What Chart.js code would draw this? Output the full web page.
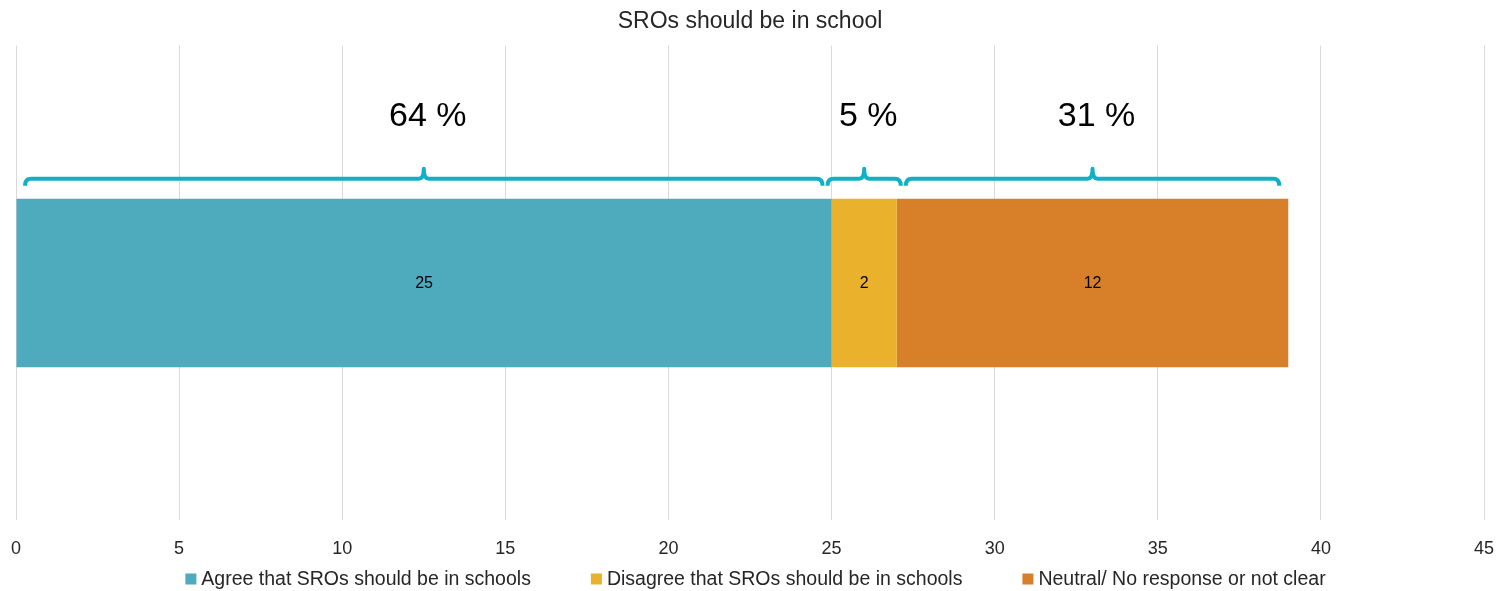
<!DOCTYPE html>
<html lang="en">
<head>
<meta charset="UTF-8">
<title>SROs should be in school</title>
<script src="https://cdn.jsdelivr.net/npm/chart.js"></script>
<style>
  html, body { margin: 0; padding: 0; background: #fff; }
  #wrap { width: 1511px; height: 591px; }
</style>
</head>
<body>
<div id="wrap"><canvas id="myChart"></canvas></div>
<script>
const categorias = ['SROs should be in school'];
const series = [
    'Agree that SROs should be in schools',
    'Disagree that SROs should be in schools',
    'Neutral/ No response or not clear'
];
const valores = [25, 2, 12];
const cores = ['#4eaabd', '#eab12d', '#d77f29'];
const eixoX = [0, 5, 10, 15, 20, 25, 30, 35, 40, 45];

const fonte = '"Liberation Sans", Arial, sans-serif';

const total = valores.reduce((a, b) => a + b, 0);

// numbers in the middle of each bar segment
const rotulos = {
    id: 'rotulos',
    afterDatasetsDraw(chart) {
        const ctx = chart.ctx;
        ctx.save();
        ctx.font = '16px ' + fonte;
        ctx.fillStyle = '#000';
        ctx.textAlign = 'center';
        ctx.textBaseline = 'middle';
        chart.data.datasets.forEach((ds, i) => {
            const bar = chart.getDatasetMeta(i).data[0];
            const c = bar.getCenterPoint();
            ctx.fillText(String(ds.data[0]), c.x, c.y + 1);
        });
        ctx.restore();
    }
};

// curly brackets with the share of each segment
const chaves = {
    id: 'chaves',
    afterDatasetsDraw(chart) {
        const ctx = chart.ctx;
        const x = chart.scales.x;
        let inicio = 0;
        ctx.save();
        chart.data.datasets.forEach((ds, i) => {
            const bar = chart.getDatasetMeta(i).data[0];
            const fim = inicio + ds.data[0];
            const x0 = x.getPixelForValue(inicio);
            const x1 = x.getPixelForValue(fim);
            const pad = (x1 - x0) > 100 ? 9 : -4;
            const esq = x0 + pad, dir = x1 - pad;
            const meio = (esq + dir) / 2;
            const yl = bar.y - bar.height / 2 - 20;

            ctx.strokeStyle = '#12b0c4';
            ctx.lineWidth = 4;
            ctx.lineJoin = 'round';
            ctx.beginPath();
            ctx.moveTo(esq, yl + 7);
            ctx.quadraticCurveTo(esq, yl, esq + 6, yl);
            ctx.lineTo(meio - 5, yl);
            ctx.quadraticCurveTo(meio, yl, meio, yl - 10);
            ctx.quadraticCurveTo(meio, yl, meio + 5, yl);
            ctx.lineTo(dir - 6, yl);
            ctx.quadraticCurveTo(dir, yl, dir, yl + 7);
            ctx.stroke();

            ctx.font = '34px ' + fonte;
            ctx.fillStyle = '#000';
            ctx.textAlign = 'center';
            ctx.textBaseline = 'middle';
            ctx.fillText(Math.round(ds.data[0] / total * 100) + ' %', meio + 4, yl - 62);

            inicio = fim;
        });
        ctx.restore();
    }
};

// legend row at the bottom, wider spacing than the built-in one
const legenda = {
    id: 'legenda',
    afterDraw(chart) {
        const ctx = chart.ctx;
        const y = chart.height - 12;
        const box = 11, gapTxt = 5, gapItem = 60;
        ctx.save();
        ctx.font = '19.5px ' + fonte;
        const larguras = chart.data.datasets.map(ds => box + gapTxt + ctx.measureText(ds.label).width);
        const totalW = larguras.reduce((a, b) => a + b, 0) + gapItem * (larguras.length - 1);
        let x = (chart.width - totalW) / 2;
        ctx.textBaseline = 'middle';
        ctx.textAlign = 'left';
        chart.data.datasets.forEach((ds, i) => {
            ctx.fillStyle = ds.backgroundColor;
            ctx.fillRect(x, y - box / 2, box, box);
            ctx.fillStyle = '#262626';
            ctx.fillText(ds.label, x + box + gapTxt, y + 1);
            x += larguras[i] + gapItem;
        });
        ctx.restore();
    }
};

const ctx = document.getElementById('myChart');

new Chart(ctx, {
    type: 'bar',
    data: {
        labels: categorias,
        datasets: series.map((nome, i) => ({
            label: nome,
            data: [valores[i]],
            backgroundColor: cores[i],
            borderWidth: 0,
            barPercentage: 0.355,
            categoryPercentage: 1
        }))
    },
    options: {
        indexAxis: 'y',
        responsive: true,
        maintainAspectRatio: false,
        animation: false,
        layout: { padding: { left: 16, right: 27, top: 0, bottom: 13 } },
        scales: {
            x: {
                stacked: true,
                min: 0,
                max: 45,
                afterBuildTicks(axis) {
                    axis.ticks = eixoX.map(v => ({ value: v }));
                },
                afterFit(axis) {
                    axis.paddingLeft = 0;
                    axis.paddingRight = 0;
                },
                grid: { color: '#d9d9d9', drawTicks: false, lineWidth: 1 },
                border: { display: false },
                ticks: {
                    padding: 18,
                    color: '#262626',
                    font: { family: fonte, size: 18 }
                }
            },
            y: {
                stacked: true,
                display: false
            }
        },
        plugins: {
            title: {
                display: true,
                text: 'SROs should be in school',
                color: '#262626',
                font: { family: fonte, size: 23, weight: 'normal' },
                padding: { top: 8, bottom: 10 }
            },
            legend: { display: false },
            tooltip: { enabled: false }
        }
    },
    plugins: [rotulos, chaves, legenda]
});
</script>
</body>
</html>
